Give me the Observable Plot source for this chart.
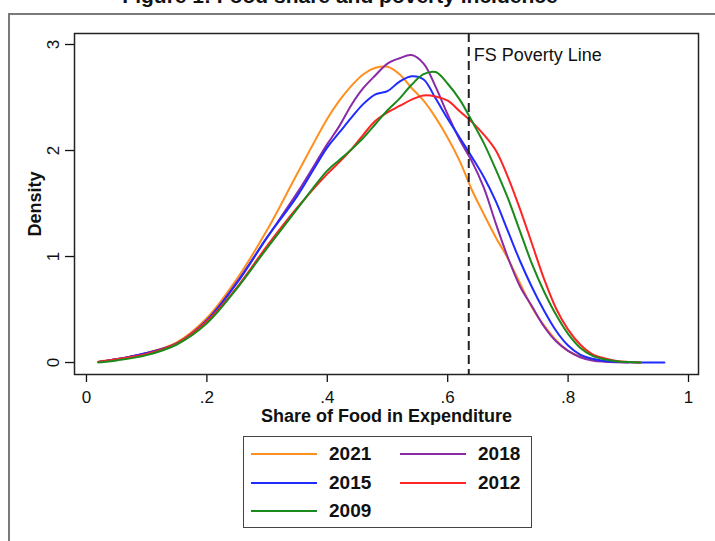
<!DOCTYPE html>
<html>
<head>
<meta charset="utf-8">
<script src="https://cdn.jsdelivr.net/npm/d3@7"></script>
<script src="https://cdn.jsdelivr.net/npm/@observablehq/plot@0.6"></script>
<style>
  html, body { margin: 0; padding: 0; background: #fff; }
  body { width: 715px; height: 541px; overflow: hidden; position: relative;
         font-family: "Liberation Sans", Arial, sans-serif; color: #111; }
  #border { position: absolute; left: 8px; top: 13px; width: 730px; height: 560px;
            border: 2px solid #7a7a7a; box-sizing: border-box; }
  #title { position: absolute; left: 0; width: 680px; top: -15px; text-align: center;
           font-weight: bold; font-size: 21px; line-height: 22px; white-space: nowrap; }
  #chart { position: absolute; left: 0; top: 0; }
  .swatch { position: absolute; height: 0; border-top: 2px solid; }
  .lab { position: absolute; font-weight: bold; font-size: 19px; line-height: 20px; }
  #legend { position: absolute; left: 243px; top: 436px; width: 289px; height: 92px;
            border: 1.5px solid #444; box-sizing: border-box; background: #fff; }
</style>
</head>
<body>
<div id="border"></div>
<div id="title">Figure 1: Food share and poverty incidence</div>
<div id="chart"></div>
<div id="legend"></div>
<script>
// Kernel density of the food share in household expenditure, by survey year
const years  = ["2021", "2018", "2015", "2012", "2009"];
const colors = ["#ff8f1f", "#8a2ba6", "#1f2bff", "#ff2424", "#1b8a1b"];

// common grid of food-share values
const share = [0.02, 0.05, 0.10, 0.15, 0.20, 0.25, 0.30, 0.35, 0.40, 0.42, 0.44, 0.46,
               0.48, 0.50, 0.52, 0.54, 0.56, 0.58, 0.60, 0.62, 0.64, 0.66, 0.68, 0.70,
               0.72, 0.74, 0.76, 0.78, 0.80, 0.82, 0.84, 0.86, 0.88, 0.90, 0.92, 0.94, 0.96];

const density2021 = [0.01, 0.03, 0.09, 0.19, 0.42, 0.79, 1.25, 1.78, 2.30, 2.47, 2.61, 2.72,
                     2.78, 2.79, 2.72, 2.59, 2.47, 2.31, 2.12, 1.90, 1.63, 1.40, 1.18, 0.98,
                     0.75, 0.52, 0.35, 0.21, 0.11, 0.06, 0.03, 0.015, 0.007, 0.003];
const density2018 = [0.005, 0.03, 0.09, 0.18, 0.40, 0.76, 1.18, 1.60, 2.06, 2.23, 2.43, 2.59,
                     2.71, 2.82, 2.87, 2.90, 2.82, 2.60, 2.34, 2.10, 1.90, 1.65, 1.31, 0.99,
                     0.72, 0.53, 0.34, 0.20, 0.11, 0.05, 0.02, 0.008, 0.003, 0.001];
const density2015 = [0.005, 0.03, 0.09, 0.18, 0.40, 0.75, 1.18, 1.57, 2.03, 2.17, 2.31, 2.44,
                     2.53, 2.56, 2.65, 2.70, 2.67, 2.49, 2.30, 2.12, 1.94, 1.75, 1.52, 1.24,
                     0.96, 0.71, 0.49, 0.30, 0.16, 0.075, 0.035, 0.015, 0.007, 0.003, 0.001, 0.0005, 0];
const density2012 = [0.005, 0.03, 0.08, 0.18, 0.39, 0.71, 1.10, 1.46, 1.78, 1.89, 2.01, 2.15,
                     2.28, 2.36, 2.42, 2.48, 2.52, 2.51, 2.47, 2.37, 2.27, 2.15, 2.00, 1.75,
                     1.45, 1.12, 0.79, 0.51, 0.31, 0.17, 0.08, 0.04, 0.015, 0.005, 0];
const density2009 = [0, 0.02, 0.07, 0.17, 0.37, 0.70, 1.08, 1.45, 1.81, 1.91, 2.01, 2.12,
                     2.25, 2.38, 2.49, 2.62, 2.72, 2.74, 2.63, 2.48, 2.28, 2.07, 1.82, 1.55,
                     1.24, 0.93, 0.67, 0.45, 0.27, 0.14, 0.065, 0.03, 0.012, 0.004, 0.001];
const densities = [density2021, density2018, density2015, density2012, density2009];

const povertyLine  = 0.635;
const povertyLabel = "FS Poverty Line";

const xTicks = [0, 0.2, 0.4, 0.6, 0.8, 1];
const xTickLabels = ["0", ".2", ".4", ".6", ".8", "1"];
const yTicks = [0, 1, 2, 3];
const xTitle = "Share of Food in Expenditure";
const yTitle = "Density";

// long-format table, one row per point of each year's curve
const rows = years.flatMap((year, k) =>
  densities[k].map((d, i) => ({year, share: share[i], density: d}))
);

const centered = {textAnchor: "middle", lineAnchor: "middle"};

const chart = Plot.plot({
  width: 715,
  height: 425,
  marginTop: 33,
  marginRight: 17,
  marginBottom: 51,
  marginLeft: 74,
  style: {fontFamily: "'Liberation Sans', Arial, sans-serif", fontSize: "17px",
          background: "transparent", color: "#111"},
  x: {domain: [-0.0199, 1.0166]},
  y: {domain: [-0.113, 3.1038]},
  color: {domain: years, range: colors},
  marks: [
    Plot.axisX({ticks: xTicks, tickSize: 8, tickFormat: () => "", label: null, strokeWidth: 1.3}),
    Plot.axisY({ticks: yTicks, tickSize: 9, tickFormat: () => "", label: null, strokeWidth: 1.3}),
    Plot.text(xTicks, {x: d => d, text: (d, i) => xTickLabels[i], frameAnchor: "bottom",
                       dy: 23.5, fontSize: 17, ...centered}),
    Plot.text(yTicks, {y: d => d, text: d => String(d), frameAnchor: "left",
                       dx: -21, rotate: -90, fontSize: 17, ...centered}),
    Plot.text([xTitle], {frameAnchor: "bottom", dy: 42, fontSize: 18, fontWeight: "bold", ...centered}),
    Plot.text([yTitle], {frameAnchor: "left", dx: -39, rotate: -90, fontSize: 18,
                         fontWeight: "bold", ...centered}),
    Plot.line(rows, {x: "share", y: "density", z: "year", stroke: "year",
                     strokeWidth: 2, curve: "catmull-rom"}),
    Plot.ruleX([povertyLine], {stroke: "#222", strokeWidth: 2, strokeDasharray: "9,5"}),
    Plot.text([povertyLabel], {x: povertyLine, y: 2.9, dx: 5, textAnchor: "start",
                               lineAnchor: "middle", fontSize: 18}),
    Plot.frame({stroke: "#222", strokeWidth: 1.5})
  ]
});
document.getElementById("chart").append(chart);

// legend: two columns, filled row by row
years.forEach((year, i) => {
  const col = i % 2, row = Math.floor(i / 2);
  const left = 251 + col * 149, cy = 454 + row * 28.5;
  const sw = document.createElement("div");
  sw.className = "swatch";
  sw.style.left = left + "px";
  sw.style.top = (cy - 1) + "px";
  sw.style.width = "66px";
  sw.style.borderTopColor = colors[i];
  document.body.append(sw);
  const lab = document.createElement("div");
  lab.className = "lab";
  lab.style.left = (left + 78) + "px";
  lab.style.top = (cy - 10) + "px";
  lab.textContent = year;
  document.body.append(lab);
});
</script>
</body>
</html>
